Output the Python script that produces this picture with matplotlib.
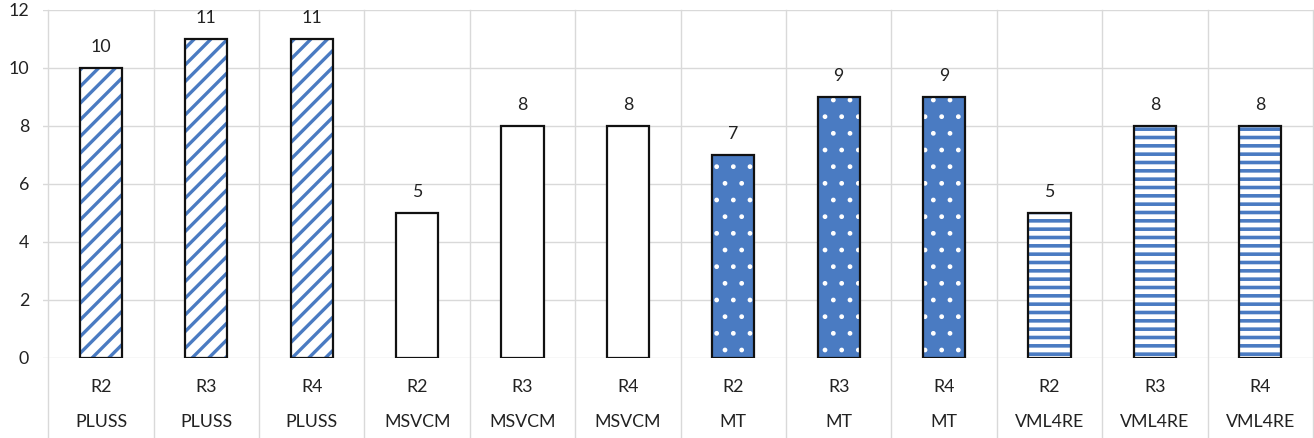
import matplotlib
matplotlib.use("Agg")
from matplotlib import pyplot as plt

# data
groups = ["PLUSS", "PLUSS", "PLUSS", "MSVCM", "MSVCM", "MSVCM",
          "MT", "MT", "MT", "VML4RE", "VML4RE", "VML4RE"]
releases = ["R2", "R3", "R4"] * 4
values = [10, 11, 11, 5, 8, 8, 7, 9, 9, 5, 8, 8]

blue = "#4a7bc2"
grid_c = "#d9d9d9"

# style per group: (facecolor, hatch colour, hatch, hatch linewidth)
styles = {
    "PLUSS": ("white", blue, "//", 2.4),
    "MSVCM": ("white", "white", None, 1.0),
    "MT": (blue, "white", ".", 1.0),
    "VML4RE": ("white", blue, "--", 2.6),
}

plt.rcParams['font.family'] = ['Lato', 'DejaVu Sans']
plt.rcParams['font.size'] = 12.8

fig = plt.figure(figsize=(13.14, 4.38), dpi=100)
ax = fig.add_axes([43 / 1314, (438 - 357.7) / 438, (1313 - 43) / 1314, 347.7 / 438])

x = list(range(len(values)))
for i, (g, v) in enumerate(zip(groups, values)):
    fc, hc, hatch, hlw = styles[g]
    # hatch layer (hatch colour comes from edgecolor), then a black outline on top
    plt.rcParams['hatch.linewidth'] = hlw
    bars = ax.bar(i, v, width=0.4, color=fc, edgecolor=hc, hatch=hatch, linewidth=0, zorder=3)
    for b in bars:
        if hasattr(b, "set_hatch_linewidth"):
            b.set_hatch_linewidth(hlw)
    ax.bar(i, v, width=0.4, fill=False, edgecolor="#111111", linewidth=1.6, zorder=4)
    ax.text(i, v + 0.72, str(v), ha="center", va="center", color="#222222")

ax.set_xlim(-0.55, 11.5)
ax.set_ylim(0, 12)
ax.set_yticks(range(0, 13, 2))
ax.set_xticks([])
ax.tick_params(axis="y", length=0, pad=10, labelsize=12.8, labelcolor="#222222")
ax.grid(axis="y", color=grid_c, linewidth=1)
ax.set_axisbelow(True)
for s in ax.spines.values():
    s.set_visible(False)

# category separators running down through the label area
for b in range(13):
    ax.plot([b - 0.5, b - 0.5], [-2.8, 12], color=grid_c, linewidth=1,
            clip_on=False, zorder=1)

for i in x:
    ax.text(i, -1.02, releases[i], ha="center", va="center", color="#222222")
    ax.text(i, -2.23, groups[i], ha="center", va="center", color="#222222")

fig.savefig("out.png", dpi=100)
